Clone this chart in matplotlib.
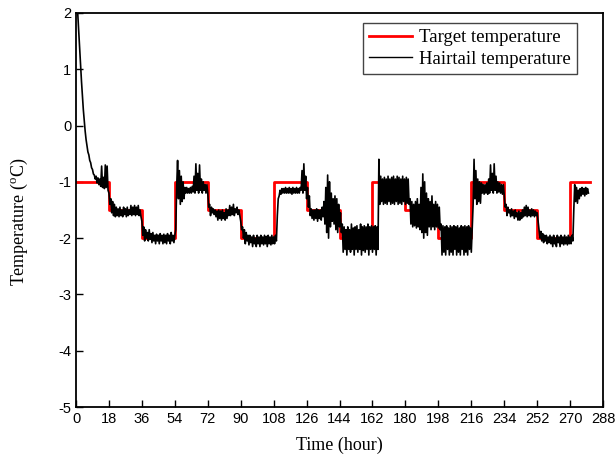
import numpy as np
import matplotlib
matplotlib.use("Agg")
import matplotlib.pyplot as plt

plt.rcParams['axes.unicode_minus'] = False
plt.rcParams['mathtext.fontset'] = 'custom'
plt.rcParams['mathtext.rm'] = 'Liberation Serif'

# Target set-point schedule (hours, degC)
target_hours = [0, 18, 36, 54, 72, 90, 108, 126, 144, 162, 180, 198, 216, 234, 252, 270, 281]
target_temp = [-1, -1.5, -2, -1, -1.5, -2, -1, -1.5, -2, -1, -1.5, -2, -1, -1.5, -2, -1, -1]

# Hairtail temperature, sampled every 0.5 h, one list per 18 h block
hair_000 = [2.6, 2.25, 1.95, 1.65, 1.35, 1.05, 0.78, 0.52, 0.28, 0.08, -0.1, -0.25,
            -0.36, -0.47, -0.52, -0.62, -0.66, -0.75, -0.78, -0.86, -0.88, -0.95, -0.9, -1.02,
            -0.93, -1.05, -0.95, -1.08, -0.72, -1.1, -0.92, -1.12, -0.7, -1.1, -0.72, -1.15]
hair_018 = [-1.2, -1.4, -1.3, -1.55, -1.35, -1.6, -1.4, -1.62, -1.45, -1.6, -1.48, -1.62,
            -1.45, -1.6, -1.5, -1.62, -1.45, -1.58, -1.48, -1.62, -1.45, -1.6, -1.5, -1.58,
            -1.42, -1.6, -1.45, -1.58, -1.42, -1.6, -1.45, -1.58, -1.42, -1.6, -1.5, -1.62]
hair_036 = [-1.7, -1.95, -1.8, -2.05, -1.85, -2.0, -1.9, -2.05, -1.85, -2.02, -1.92, -2.08,
            -1.9, -2.05, -1.95, -2.1, -1.93, -2.05, -1.95, -2.1, -1.92, -2.05, -1.95, -2.1,
            -1.93, -2.08, -1.95, -2.1, -1.92, -2.05, -1.95, -2.1, -1.9, -2.05, -1.95, -2.08]
hair_054 = [-1.95, -1.85, -1.1, -0.62, -1.3, -0.8, -1.4, -0.9, -1.35, -1.0, -1.3, -1.1,
            -1.2, -1.1, -1.2, -1.12, -1.2, -1.1, -1.2, -1.08, -1.18, -0.9, -1.2, -0.68,
            -1.15, -0.85, -1.2, -0.7, -1.15, -0.95, -1.2, -1.0, -1.15, -1.05, -1.2, -1.05]
hair_072 = [-1.2, -1.45, -1.4, -1.6, -1.45, -1.55, -1.48, -1.58, -1.5, -1.62, -1.52, -1.68,
            -1.5, -1.65, -1.52, -1.68, -1.5, -1.65, -1.55, -1.68, -1.48, -1.65, -1.5, -1.6,
            -1.42, -1.6, -1.45, -1.58, -1.4, -1.6, -1.48, -1.55, -1.45, -1.58, -1.5, -1.6]
hair_090 = [-1.7, -1.85, -1.8, -2.0, -1.85, -2.1, -1.9, -2.05, -1.95, -2.12, -1.95, -2.08,
            -1.98, -2.15, -1.95, -2.1, -2.0, -2.15, -1.95, -2.1, -1.98, -2.15, -1.95, -2.1,
            -1.98, -2.12, -1.95, -2.1, -1.97, -2.15, -1.95, -2.1, -1.98, -2.12, -1.95, -2.1]
hair_108 = [-1.98, -2.1, -1.95, -2.05, -1.6, -1.3, -1.25, -1.15, -1.22, -1.12, -1.2, -1.12,
            -1.2, -1.1, -1.2, -1.12, -1.2, -1.1, -1.2, -1.12, -1.22, -1.1, -1.2, -1.12,
            -1.2, -1.1, -1.2, -1.12, -1.2, -1.1, -1.15, -0.8, -1.2, -0.68, -1.15, -0.9]
hair_126 = [-1.3, -1.1, -1.45, -1.25, -1.6, -1.48, -1.65, -1.5, -1.68, -1.5, -1.65, -1.48,
            -1.7, -1.5, -1.65, -1.5, -1.68, -1.45, -1.62, -1.35, -1.75, -1.1, -1.9, -0.88,
            -2.0, -1.0, -1.8, -1.2, -1.7, -1.3, -1.75, -1.25, -1.85, -1.3, -1.9, -1.4]
hair_144 = [-1.8, -1.55, -1.9, -1.75, -2.25, -1.8, -2.2, -1.85, -2.3, -1.8, -2.2, -1.85,
            -2.25, -1.75, -2.2, -1.82, -2.3, -1.8, -2.2, -1.78, -2.25, -1.85, -2.2, -1.75,
            -2.3, -1.8, -2.22, -1.78, -2.25, -1.8, -2.2, -1.75, -2.3, -1.8, -2.2, -1.78]
hair_162 = [-2.25, -1.8, -2.2, -1.78, -2.3, -1.8, -2.2, -0.6, -1.4, -0.9, -1.35, -0.95,
            -1.4, -0.92, -1.38, -0.95, -1.4, -0.9, -1.35, -0.95, -1.4, -0.92, -1.38, -0.9,
            -1.4, -0.95, -1.35, -0.9, -1.4, -0.92, -1.38, -0.95, -1.4, -0.9, -1.35, -0.95]
hair_180 = [-1.4, -0.92, -1.38, -0.95, -1.4, -1.3, -1.75, -1.35, -1.8, -1.4, -1.78, -1.35,
            -1.82, -1.3, -1.8, -1.4, -1.85, -1.1, -1.9, -0.86, -2.0, -1.0, -1.9, -1.2,
            -1.95, -1.3, -1.8, -1.35, -1.85, -1.25, -1.8, -1.4, -1.85, -1.35, -1.8, -1.4]
hair_198 = [-1.82, -1.45, -1.85, -1.75, -2.3, -1.78, -2.25, -1.8, -2.3, -1.78, -2.2, -1.82,
            -2.3, -1.78, -2.25, -1.8, -2.3, -1.78, -2.2, -1.8, -2.3, -1.78, -2.25, -1.82,
            -2.3, -1.78, -2.2, -1.8, -2.3, -1.78, -2.25, -1.8, -2.3, -1.78, -2.2, -1.82]
hair_216 = [-2.25, -1.8, -1.4, -0.6, -1.3, -0.8, -1.4, -0.95, -1.35, -1.0, -1.38, -1.02,
            -1.2, -1.05, -1.22, -1.05, -1.2, -1.02, -1.22, -0.95, -1.2, -0.7, -1.15, -0.85,
            -1.2, -0.68, -1.15, -0.9, -1.2, -1.0, -1.18, -1.02, -1.2, -1.05, -1.22, -1.05]
hair_234 = [-1.25, -1.45, -1.4, -1.6, -1.45, -1.55, -1.5, -1.62, -1.48, -1.6, -1.52, -1.65,
            -1.5, -1.62, -1.55, -1.68, -1.52, -1.68, -1.55, -1.65, -1.5, -1.62, -1.45, -1.6,
            -1.42, -1.62, -1.45, -1.6, -1.5, -1.62, -1.48, -1.6, -1.5, -1.62, -1.52, -1.6]
hair_252 = [-1.55, -1.7, -1.85, -2.0, -1.88, -2.05, -1.92, -2.08, -1.95, -2.05, -1.95, -2.1,
            -1.98, -2.08, -1.95, -2.1, -1.98, -2.15, -1.95, -2.1, -2.0, -2.15, -1.95, -2.08,
            -1.98, -2.15, -1.95, -2.1, -1.98, -2.12, -1.95, -2.1, -1.98, -2.12, -1.95, -2.1]
hair_270 = [-1.98, -2.1, -1.95, -2.05, -1.5, -1.05, -1.35, -1.1, -1.38, -1.15, -1.3, -1.12,
            -1.25, -1.1, -1.22, -1.12, -1.25, -1.1, -1.22, -1.12, -1.2]

hair = np.array(hair_000 + hair_018 + hair_036 + hair_054 + hair_072 + hair_090
                + hair_108 + hair_126 + hair_144 + hair_162 + hair_180 + hair_198
                + hair_216 + hair_234 + hair_252 + hair_270)
hair_hours = np.arange(len(hair)) * 0.5

fig = plt.figure(figsize=(6.15, 4.62), dpi=100)
ax = fig.add_axes([0.1236, 0.119, 0.857, 0.853])

ax.step(target_hours, target_temp, where='post', color='red', lw=2.0,
        label='Target temperature', zorder=2)
ax.plot(hair_hours, hair, color='black', lw=1.2, label='Hairtail temperature', zorder=3)

ax.set_xlim(0, 288)
ax.set_ylim(-5, 2)
ax.set_xticks(np.arange(0, 289, 18))
ax.set_yticks(np.arange(-5, 3, 1))
ax.tick_params(direction='in', length=5, width=1, labelsize=10.5,
               top=False, right=False)
for lab in ax.get_xticklabels() + ax.get_yticklabels():
    lab.set_fontfamily('Liberation Sans')
for sp in ax.spines.values():
    sp.set_linewidth(1.3)

ax.set_xlabel('Time (hour)', family='Liberation Serif', fontsize=13, labelpad=8)
ax.set_ylabel('Temperature ($^{\\rm o}$C)', family='Liberation Serif', fontsize=13)
ax.yaxis.set_label_coords(-0.087, 0.47)

leg = ax.legend(loc='upper right', bbox_to_anchor=(0.951, 0.975), borderaxespad=0,
                fancybox=False, framealpha=1, edgecolor='#444444', handlelength=2.3,
                prop={'family': 'Liberation Serif', 'size': 13.5},
                borderpad=0.35, labelspacing=0.22, handletextpad=0.35)
leg.get_frame().set_linewidth(1.0)
for h in leg.get_lines():
    h.set_linewidth(2.0 if h.get_color() == 'red' else 1.0)

fig.savefig('out.png', dpi=100)
